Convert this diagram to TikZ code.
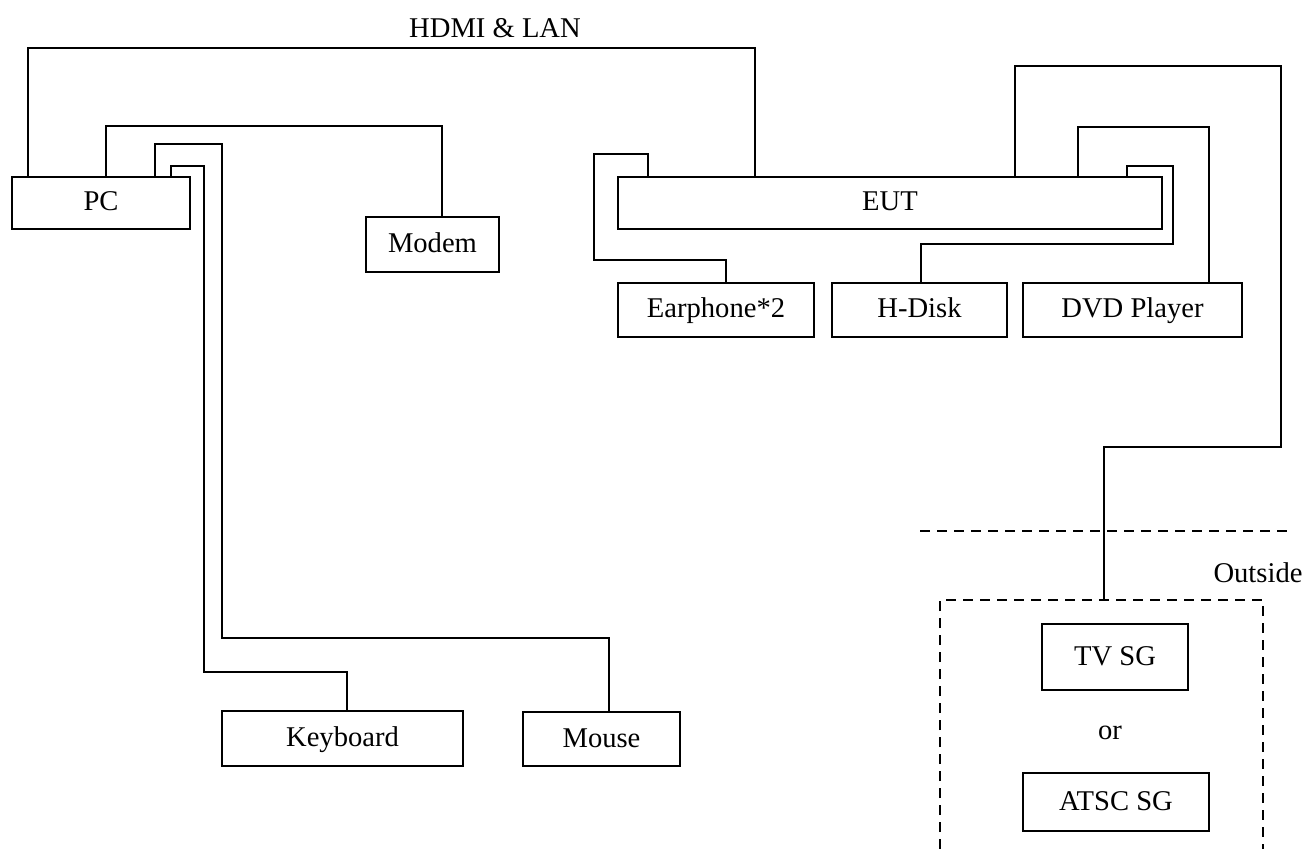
\documentclass[tikz,border=0pt]{standalone}
\usepackage{fontspec}
\setmainfont{Liberation Serif}
\begin{document}
\begin{tikzpicture}
        [x=0.5pt,y=-0.5pt,
         font=\fontsize{14.3}{17}\selectfont,
         box/.style={draw,line width=1pt,inner sep=0pt,text height=0.8em,text depth=0pt},
         wire/.style={line width=1pt},
         bound/.style={line width=1pt,dash pattern=on 5pt off 3.5pt}]
        \useasboundingbox (0,0) rectangle (1306,849);

        \node[box,minimum width=89pt,minimum height=26pt] (pc) at (101,203) {PC};
        \node[box,minimum width=66.5pt,minimum height=27.5pt] (modem) at (432.5,244.5) {Modem};
        \node[box,minimum width=272pt,minimum height=26pt] (eut) at (890,203) {EUT};
        \node[box,minimum width=98pt,minimum height=27pt] (earphone) at (716,310) {Earphone*2};
        \node[box,minimum width=87.5pt,minimum height=27pt] (hdisk) at (919.5,310) {H-Disk};
        \node[box,minimum width=109.5pt,minimum height=27pt] (dvd) at (1132.5,310) {DVD Player};
        \node[box,minimum width=120.5pt,minimum height=27.5pt] (keyboard) at (342.5,738.5) {Keyboard};
        \node[box,minimum width=78.5pt,minimum height=27pt] (mouse) at (601.5,739) {Mouse};
        \node[box,minimum width=73pt,minimum height=33pt] (tvsg) at (1115,657) {TV SG};
        \node (or) at (1110,733) {or};
        \node[box,minimum width=93pt,minimum height=29pt] (atscsg) at (1116,802) {ATSC SG};

        \node (hdmi) at (495,28) {HDMI \& LAN};
        \node (outside) at (1258,573) {Outside};

        \coordinate (sgtop) at (1104,600);

        \draw[wire] (pc.north -| 28,0) |- (755,48) -- (eut.north -| 755,0);
        \draw[wire] (pc.north -| 106,0) |- (442,126) -- (modem.north -| 442,0);
        \draw[wire] (pc.north -| 155,0) |- (222,144) |- (609,638) -- (mouse.north -| 609,0);
        \draw[wire] (pc.north -| 171,0) |- (204,166) |- (347,672) -- (keyboard.north -| 347,0);

        \draw[wire] (eut.north -| 648,0) |- (594,154) |- (726,260) -- (earphone.north -| 726,0);
        \draw[wire] (eut.north -| 1127,0) |- (1173,166) |- (921,244) -- (hdisk.north -| 921,0);
        \draw[wire] (eut.north -| 1078,0) |- (1209,127) -- (dvd.north -| 1209,0);
        \draw[wire] (eut.north -| 1015,0) |- (1281,66) |- (1104,447) -- (sgtop);

        \draw[bound] (920,531) -- (1287,531);
        \draw[bound] (940,849) -- (940,600) -- (1263,600) -- (1263,849);
      \end{tikzpicture}
\end{document}
